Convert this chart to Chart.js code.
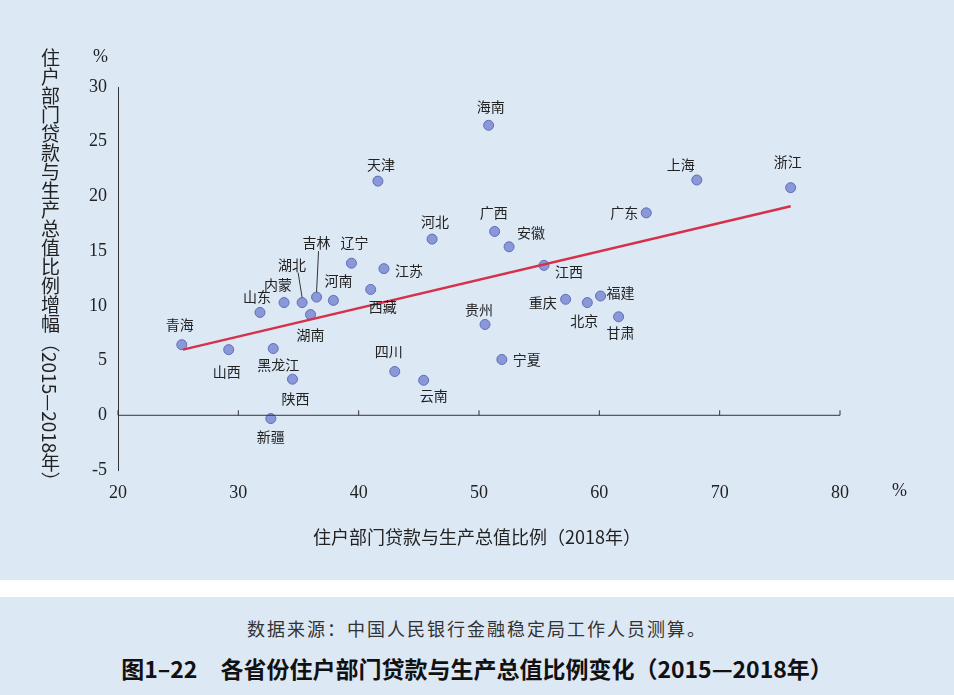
<!DOCTYPE html>
<html><head><meta charset="utf-8">
<script src="https://cdn.jsdelivr.net/npm/chart.js@4"></script>
<style>
body{margin:0;width:954px;height:695px;background:#fff;font-family:"Noto Sans CJK SC",sans-serif;position:relative;overflow:hidden}
#top{position:absolute;left:0;top:0;width:954px;height:580px;background:#dde8f5}
#bot{position:absolute;left:0;top:597px;width:954px;height:98px;background:#dde8f5}
#src{position:absolute;top:18px;width:100%;text-align:center;font-size:18px;color:#333;letter-spacing:2px}
#ttl{position:absolute;top:54px;width:100%;text-align:center;font-size:23px;font-weight:bold;color:#111}
#ytitle{position:absolute;left:38px;top:48px;writing-mode:vertical-rl;font-size:19px;color:#222;line-height:24px}
#xtitle{position:absolute;left:0;width:954px;top:523px;text-align:center;font-size:18px;color:#222}
.pct{position:absolute;font-family:"Liberation Serif",serif;font-size:18px;color:#222}
canvas{position:absolute;left:0;top:0}
</style></head><body>
<div id="top"><canvas id="c" width="954" height="580"></canvas>
<div id="ytitle">住户部门贷款与生产总值比例增幅（2015—2018年）</div>
<div class="pct" style="left:93px;top:46px">%</div>
<div class="pct" style="left:892px;top:480px">%</div>
<div id="xtitle">住户部门贷款与生产总值比例（2018年）</div>
</div>
<div id="bot"><div id="src">数据来源：中国人民银行金融稳定局工作人员测算。</div>
<div id="ttl">图1–22　各省份住户部门贷款与生产总值比例变化（2015—2018年）</div></div>
<script>
const provinces = ['青海','山西','山东','内蒙','湖北','吉林','湖南','河南','辽宁','黑龙江','陕西','新疆','天津','江苏','西藏','四川','云南','河北','海南','广西','安徽','贵州','宁夏','江西','重庆','北京','福建','甘肃','广东','上海','浙江'];
const ratio2018 = [25.3,29.2,31.8,33.8,35.3,36.5,36.0,37.9,39.4,32.9,34.5,32.7,41.6,42.1,41.0,43.0,45.4,46.1,50.8,51.3,52.5,50.5,51.9,55.4,57.2,59.0,60.1,61.6,63.9,68.1,75.9];
const ratioChange = [6.45,6.0,9.4,10.3,10.3,10.8,9.2,10.5,13.9,6.1,3.3,-0.3,21.4,13.4,11.5,4.0,3.2,16.1,26.5,16.8,15.4,8.3,5.1,13.7,10.6,10.3,10.9,9.0,18.5,21.5,20.8];
const trendX = [25.4, 75.9];
const trendY = [6.0, 19.1];
const xTicks = [20,30,40,50,60,70,80];
// label offsets (px) relative to each point
const labelOffsets = [[-2,-20],[-2,22],[-3,-16],[-6,-18],[-10,-38],[0,-54],[0,20],[5,-20],[3,-20],[5,16],[3,20],[0,18],[3,-16],[25,2],[12,17],[-6,-20],[10,15],[3,-17],[2,-19],[-1,-19],[22,-14],[-6,-15],[25,0],[25,6],[-23,3],[-3,18],[20,-3],[2,16],[-22,0],[-16,-15],[-3,-26]];

const pointLabels = {
  id: 'pointLabels',
  afterDatasetsDraw(chart) {
    const {ctx, scales: {x, y}} = chart;
    // zero line with upward ticks
    ctx.save();
    ctx.strokeStyle = '#333'; ctx.lineWidth = 1;
    const y0 = y.getPixelForValue(0);
    ctx.beginPath(); ctx.moveTo(x.left, y0); ctx.lineTo(x.right, y0);
    xTicks.forEach(t => { const px = x.getPixelForValue(t); ctx.moveTo(px, y0); ctx.lineTo(px, y0 - 5); });
    ctx.stroke();
    // leader lines for 湖北, 吉林
    const m = chart.getDatasetMeta(1).data;
    ctx.beginPath();
    ctx.moveTo(m[4].x, m[4].y - 5); ctx.lineTo(m[4].x - 4, m[4].y - 30);
    ctx.moveTo(m[5].x, m[5].y - 5); ctx.lineTo(m[5].x + 2, m[5].y - 46);
    ctx.stroke();
    ctx.fillStyle = '#222';
    ctx.font = '14px "Noto Sans CJK SC"';
    ctx.textAlign = 'center'; ctx.textBaseline = 'middle';
    m.forEach((p, i) => ctx.fillText(provinces[i], p.x + labelOffsets[i][0], p.y + labelOffsets[i][1]));
    ctx.restore();
  }
};

new Chart(document.getElementById('c'), {
  type: 'scatter',
  data: {
    datasets: [
      {
        type: 'line',
        data: trendX.map((v, i) => ({x: v, y: trendY[i]})),
        borderColor: '#d6304a', borderWidth: 2.5, pointRadius: 0,
      },
      {
        data: ratio2018.map((v, i) => ({x: v, y: ratioChange[i]})),
        backgroundColor: '#8a98d8', borderColor: '#5d6db8', borderWidth: 1, pointRadius: 5,
      },
    ],
  },
  options: {
    responsive: false, animation: false,
    layout: { padding: { left: 0, right: 114, top: 87, bottom: 0 } },
    plugins: { legend: { display: false }, tooltip: { enabled: false } },
    scales: {
      x: {
        min: 20, max: 80,
        afterBuildTicks: s => { s.ticks = xTicks.map(v => ({value: v})); },
        afterFit: s => { s.height = 110; },
        grid: { display: false }, border: { display: false },
        ticks: { color: '#222', font: { family: 'Liberation Serif', size: 18 }, padding: 4 },
      },
      y: {
        min: -5, max: 30,
        ticks: { stepSize: 5, color: '#222', font: { family: 'Liberation Serif', size: 18 }, padding: 6 },
        afterFit: s => { s.width = 118; },
        grid: { display: false, drawTicks: true, tickLength: 5 },
        border: { color: '#333' },
      },
    },
  },
  plugins: [pointLabels],
});
</script>
</body></html>
